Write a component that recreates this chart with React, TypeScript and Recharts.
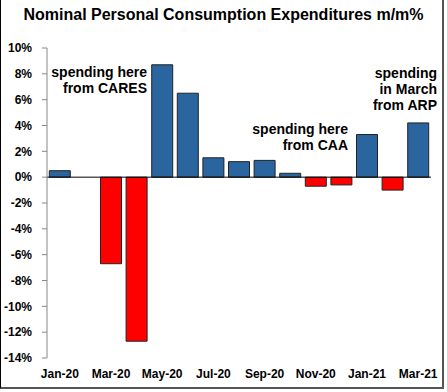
import React from "react";
import { BarChart, Bar, XAxis, YAxis, Cell, ReferenceLine } from "recharts";

const months = ["Jan-20","Feb-20","Mar-20","Apr-20","May-20","Jun-20","Jul-20","Aug-20","Sep-20","Oct-20","Nov-20","Dec-20","Jan-21","Feb-21","Mar-21"];
const pceMoM = [0.5, 0.0, -6.7, -12.7, 8.7, 6.5, 1.5, 1.2, 1.3, 0.3, -0.7, -0.6, 3.3, -1.0, 4.2];
const yTicks = [-14, -12, -10, -8, -6, -4, -2, 0, 2, 4, 6, 8, 10];
const title = "Nominal Personal Consumption Expenditures m/m%";
const notes = [
  { lines: ["spending here", "from CARES"], right: 300, top: 64 },
  { lines: ["spending here", "from CAA"], right: 99, top: 121 },
  { lines: ["spending", "in March", "from ARP"], right: 10, top: 65 },
];

const data = months.map((m, i) => ({ month: m, value: pceMoM[i] }));
const BLUE = "#2A65A0";
const RED = "#FF0000";
const FONT = "'Liberation Sans', Arial, sans-serif";

export default function App() {
  return (
    <div style={{ position: "absolute", left: 0, top: 0, width: 447, height: 392, background: "#fff", fontFamily: FONT }}>
      <div style={{ position: "absolute", left: 0, top: 0, width: 444, height: 389, borderLeft: "1px solid #000", borderRight: "2px solid #555", borderBottom: "2px solid #555", boxSizing: "border-box" }} />
      <div style={{ position: "absolute", left: 0, top: 6, width: 447, textAlign: "center", fontSize: 16, fontWeight: "bold", color: "#000" }}>{title}</div>
      <BarChart width={447} height={392} data={data} margin={{ top: 48, right: 16, left: 0, bottom: 4 }} barCategoryGap="9%">
        <YAxis
          domain={[-14, 10]}
          ticks={yTicks}
          width={47}
          tickFormatter={(v) => `${v}%`}
          tick={{ fill: "#000", fontSize: 12, fontWeight: "bold", fontFamily: FONT }}
          axisLine={{ stroke: "#888" }}
          tickLine={{ stroke: "#888" }}
          tickSize={5}
          tickMargin={10}
          allowDataOverflow
        />
        <XAxis
          dataKey="month"
          interval={1}
          height={30}
          axisLine={false}
          tickLine={false}
          tickSize={0}
          tick={{ fill: "#000", fontSize: 12, fontWeight: "bold", fontFamily: FONT }}
          tickMargin={11}
        />
        <ReferenceLine y={0} stroke="#000" strokeWidth={1} />
        <Bar dataKey="value" isAnimationActive={false} stroke="#222" strokeWidth={1}>
          {data.map((d, i) => (
            <Cell key={i} fill={d.value >= 0 ? BLUE : RED} />
          ))}
        </Bar>
      </BarChart>
      {notes.map((n, i) => (
        <div key={i} style={{ position: "absolute", right: n.right, top: n.top, textAlign: "right", fontSize: 14, fontWeight: "bold", lineHeight: "16px", color: "#000" }}>
          {n.lines.map((l, j) => (
            <div key={j}>{l}</div>
          ))}
        </div>
      ))}
    </div>
  );
}
